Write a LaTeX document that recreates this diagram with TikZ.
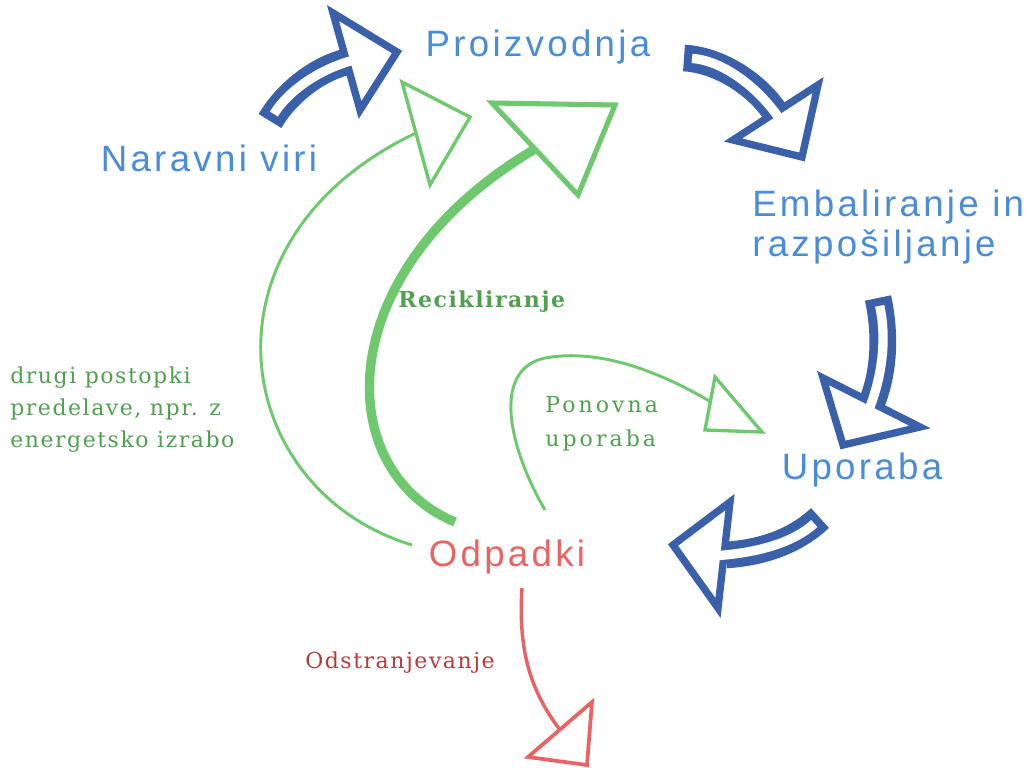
\documentclass[tikz,border=0pt]{standalone}
\usepackage{fontspec}
\setmainfont{DejaVu Serif}
\newfontfamily\bluefont[LetterSpace=9]{Liberation Sans}
\newfontfamily\gserif[LetterSpace=7]{DejaVu Serif}
\newfontfamily\gserifwide[LetterSpace=14]{DejaVu Serif}
\definecolor{darkblue}{RGB}{58,96,170}
\definecolor{lblue}{RGB}{74,140,218}
\definecolor{gline}{RGB}{110,200,110}
\definecolor{gtext}{RGB}{80,160,80}
\definecolor{rline}{RGB}{232,100,100}
\definecolor{rtext}{RGB}{180,60,60}
\tikzset{
  bigtxt/.style={font=\bluefont\fontsize{27.5}{30}\selectfont, text=lblue, inner sep=0pt},
  redtxt/.style={font=\bluefont\fontsize{27.5}{30}\selectfont, text=rline, inner sep=0pt},
  smalltxt/.style={font=\gserif\fontsize{16.5}{24}\selectfont, text=gtext, inner sep=0pt, align=left},
  bouter/.style={draw=darkblue, line width=20pt, line cap=butt},
  binner/.style={draw=white, line width=7pt, line cap=butt, shorten <=6pt, shorten >=-7pt},
  bhead/.style={draw=darkblue, fill=white, line width=5.5pt, line join=miter, miter limit=5},
  gthin/.style={draw=gline, line width=2.2pt},
  gthick/.style={draw=gline, line width=7pt},
  ghead/.style={draw=gline, fill=white, line width=2.5pt, line join=miter},
  gheadthick/.style={draw=gline, fill=white, line width=3.8pt, line join=miter},
  rthin/.style={draw=rline, line width=2.6pt},
  rhead/.style={draw=rline, fill=white, line width=2.8pt, line join=miter},
}
\newcommand\blockarr[7]{%
  \draw[bouter] #1 .. controls #2 and #3 .. #4;
  \filldraw[bhead] #5 -- #7 -- #6 -- cycle;
  \draw[binner] #1 .. controls #2 and #3 .. #4;
}
\begin{document}
\begin{tikzpicture}[x=0.75pt,y=-0.75pt]
\fill[white] (0,0) rectangle (1027,767);
\useasboundingbox (0,0) rectangle (1027,767);

% labels
\node[bigtxt, anchor=base] (prod) at (538,57) {Proizvodnja};
\node[bigtxt, anchor=base] (nar) at (209,171) {Naravni viri};
\node[bigtxt, anchor=north west, align=left] (emb) at (752,190) {Embaliranje in\\razpošiljanje};
\node[bigtxt, anchor=base] (upo) at (862,479) {Uporaba};
\node[redtxt, anchor=base] (odp) at (507,566) {Odpadki};
\node[smalltxt, anchor=north west] (drugi) at (10,367) {drugi postopki\\predelave, npr. z\\energetsko izrabo};
\node[smalltxt, anchor=base west, font=\gserif\bfseries\fontsize{16.5}{24}\selectfont] (rec) at (398,307) {Recikliranje};
\node[smalltxt, anchor=north west, font=\gserifwide\fontsize{16.5}{26}\selectfont] (pon) at (545,396) {Ponovna\\uporaba};
\node[smalltxt, anchor=base west, text=rtext] (odst) at (305,668) {Odstranjevanje};

% blue block arrows
\blockarr{(270,121)}{(285,95)}{(315,70)}{(346,62)}{(333,13)}{(360,110)}{(397,52)}
\blockarr{(684,58)}{(720,60)}{(757,85)}{(775,112)}{(818,85)}{(733,140)}{(802,157)}
\blockarr{(878,298)}{(886,335)}{(884,372)}{(872,402)}{(823,378)}{(920,427)}{(843,445)}
\blockarr{(820,518)}{(800,537)}{(770,552)}{(726,555)}{(730,502)}{(718,608)}{(673,545)}

% green: other processes
\coordinate (g1s) at (412,545);
\coordinate (g1e) at (416,133);
\draw[gthin] (g1s) .. controls (230,490) and (190,240) .. (g1e);
\filldraw[ghead] (402,82) -- (470,117) -- (430,185) -- cycle;

% green: recycling
\coordinate (g2s) at (455,522);
\coordinate (g2e) at (535,149);
\draw[gthick] (g2s) .. controls (330,470) and (330,270) .. (g2e);
\filldraw[gheadthick] (492,103) -- (615,105) -- (578,195) -- cycle;

% green: reuse
\coordinate (g3s) at (545,510);
\coordinate (g3m) at (545,358);
\coordinate (g3e) at (711,402);
\draw[gthin] (g3s) .. controls (510,450) and (490,370) .. (g3m) .. controls (600,348) and (660,372) .. (g3e);
\filldraw[ghead] (715,377) -- (762,432) -- (705,430) -- cycle;

% red: disposal
\coordinate (r1s) at (522,588);
\coordinate (r1e) at (560,730);
\draw[rthin] (r1s) .. controls (518,650) and (530,690) .. (r1e);
\filldraw[rhead] (592,702) -- (587,765) -- (528,757) -- cycle;
\end{tikzpicture}
\end{document}
